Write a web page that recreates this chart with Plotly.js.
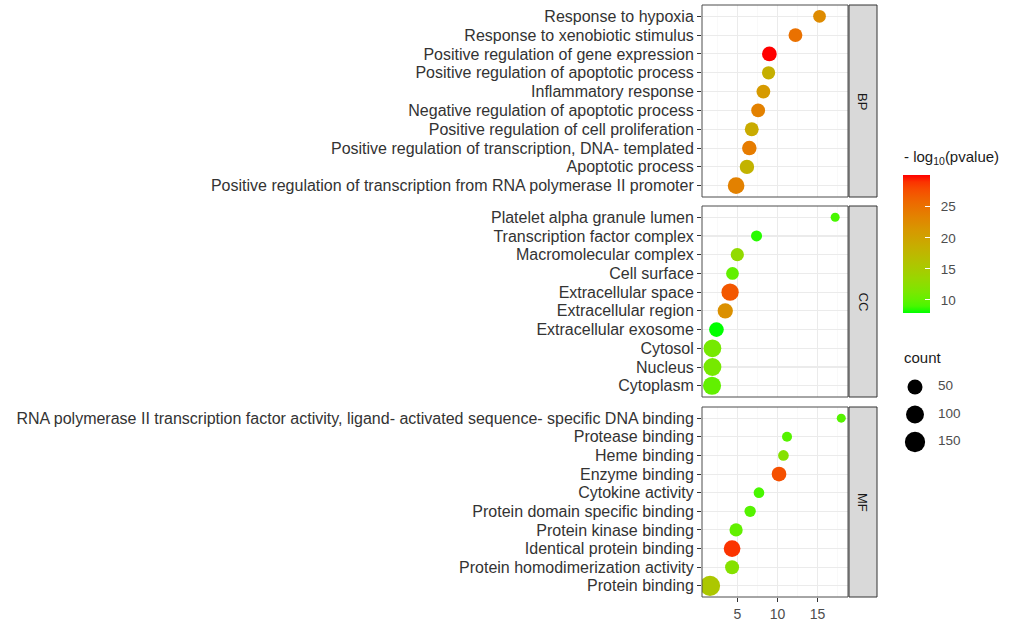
<!DOCTYPE html>
<html><head><meta charset="utf-8">
<script src="https://cdn.plot.ly/plotly-3.0.1.min.js"></script>
<style>html,body{margin:0;padding:0;background:#fff}</style>
</head><body><div id="chart" style="width:1010px;height:622px"></div>
<script>
// ---------- data ----------
const bpTerms = ["Response to hypoxia","Response to xenobiotic stimulus","Positive regulation of gene expression","Positive regulation of apoptotic process","Inflammatory response","Negative regulation of apoptotic process","Positive regulation of cell proliferation","Positive regulation of transcription, DNA- templated","Apoptotic process","Positive regulation of transcription from RNA polymerase II promoter"];
const bpEnrich = [15.25,12.25,9.0,8.9,8.25,7.6,6.8,6.5,6.2,4.85];
const bpCount  = [24,36,46,29,35,36,36,44,42,76];
const bpLogP   = [22.5,25,30.1,18.5,21,23.5,19,24,18,23.5];

const ccTerms = ["Platelet alpha granule lumen","Transcription factor complex","Macromolecular complex","Cell surface","Extracellular space","Extracellular region","Extracellular exosome","Cytosol","Nucleus","Cytoplasm"];
const ccEnrich = [17.2,7.4,5.0,4.4,4.1,3.5,2.4,1.9,1.9,1.85];
const ccCount  = [3,11,29,24,87,54,46,95,98,102];
const ccLogP   = [9,8.5,13,10,27,22,7.9,11,11,10];

const mfTerms = ["RNA polymerase II transcription factor activity, ligand- activated sequence- specific DNA binding","Protease binding","Heme binding","Enzyme binding","Cytokine activity","Protein domain specific binding","Protein kinase binding","Identical protein binding","Protein homodimerization activity","Protein binding"];
const mfEnrich = [17.96,11.2,10.75,10.2,7.7,6.6,4.85,4.35,4.35,1.6];
const mfCount  = [3,6,9,46,9,13,29,76,37,148];
const mfLogP   = [9.5,9.5,12,27.5,9,9.5,10,29,12,15.5];

const facetLabels = ["BP","CC","MF"];
const xTickVals = [5,10,15];
const colorTickVals = [10,15,20,25];
const countLegendVals = [50,100,150];

// ---------- helpers ----------
const W = 1010, H = 622;
const FONT = "Liberation Sans, Arial, Helvetica, sans-serif";
function sizeOf(c){ return 8 + 1.01*Math.sqrt(Math.max(c-2,0)); }
function s2l(c){c/=255;return c<=0.04045?c/12.92:Math.pow((c+0.055)/1.055,2.4);}
function l2s(c){c=c<=0.0031308?12.92*c:1.055*Math.pow(c,1/2.4)-0.055;return Math.round(Math.min(1,Math.max(0,c))*255);}
function rgb2lab(r,g,b){
  r=s2l(r);g=s2l(g);b=s2l(b);
  let X=(0.4124*r+0.3576*g+0.1805*b)/0.95047, Y=0.2126*r+0.7152*g+0.0722*b, Z=(0.0193*r+0.1192*g+0.9505*b)/1.08883;
  const f=t=>t>0.008856?Math.cbrt(t):7.787*t+16/116;
  const fx=f(X),fy=f(Y),fz=f(Z);
  return [116*fy-16,500*(fx-fy),200*(fy-fz)];
}
function lab2rgb(L,a,b){
  const fy=(L+16)/116, fx=fy+a/500, fz=fy-b/200;
  const fi=t=>t*t*t>0.008856?t*t*t:(t-16/116)/7.787;
  const X=fi(fx)*0.95047, Y=fi(fy), Z=fi(fz)*1.08883;
  const r= 3.2406*X-1.5372*Y-0.4986*Z, g=-0.9689*X+1.8758*Y+0.0415*Z, bb=0.0557*X-0.2040*Y+1.0570*Z;
  return 'rgb('+l2s(r)+','+l2s(g)+','+l2s(bb)+')';
}
const lo = rgb2lab(0,255,0), hi = rgb2lab(255,0,0);
const cscale = [];
for(let i=0;i<=20;i++){const t=i/20;cscale.push([t,lab2rgb(lo[0]+(hi[0]-lo[0])*t,lo[1]+(hi[1]-lo[1])*t,lo[2]+(hi[2]-lo[2])*t)]);}

const allP = bpLogP.concat(ccLogP, mfLogP);
const cmin = Math.min(...allP), cmax = Math.max(...allP);

// panel geometry (pixels)
const panelX = [702, 848];
const panelsY = [[5,197],[206,397],[407,597]];
const stripX = [849, 877];
const px = v => v/W, py = v => 1 - v/H;

const termSets = [bpTerms, ccTerms, mfTerms];
const enrichSets = [bpEnrich, ccEnrich, mfEnrich];
const countSets = [bpCount, ccCount, mfCount];
const pSets = [bpLogP, ccLogP, mfLogP];

const traces = [];
for(let k=0;k<3;k++){
  const m = {
    size: countSets[k].map(sizeOf),
    color: pSets[k], colorscale: cscale, cmin: cmin, cmax: cmax,
    line: {width:0}, opacity: 1,
    showscale: k===0
  };
  if(k===0){
    m.colorbar = {
      x: px(903), xanchor:'left', xpad:0,
      y: py(175), yanchor:'top', ypad:0,
      len: 138, lenmode:'pixels', thickness: 27, thicknessmode:'pixels',
      outlinewidth: 0, tickvals: colorTickVals, ticktext: colorTickVals.map(v=>'\u00A0\u00A0'+v),
      ticks:'inside', ticklen:5, tickcolor:'#ffffff', tickwidth:1,
      tickfont:{family:FONT,size:13.5,color:'#4d4d4d'}, title:{text:''}
    };
  }
  traces.push({
    type:'scatter', mode:'markers',
    x: enrichSets[k], y: termSets[k],
    xaxis:'x', yaxis: k===0?'y':'y'+(k+1),
    marker: m, hoverinfo:'x+y', showlegend:false
  });
}
// count size legend (own small axes)
traces.push({
  type:'scatter', mode:'markers',
  x: countLegendVals.map(()=>915), y: countLegendVals.map((v,i)=>387+27.5*i),
  xaxis:'x4', yaxis:'y4', opacity:1,
  marker:{size: countLegendVals.map(sizeOf), color:'#000000', opacity:1, line:{width:0}}, hoverinfo:'skip', showlegend:false, cliponaxis:false
});
traces.push({
  type:'scatter', mode:'text',
  x: countLegendVals.map(()=>938), y: countLegendVals.map((v,i)=>387+27.5*i),
  text: countLegendVals.map(String), textposition:'middle right',
  textfont:{family:FONT,size:13.5,color:'#4d4d4d'},
  xaxis:'x4', yaxis:'y4', hoverinfo:'skip', showlegend:false, cliponaxis:false
});

const yBase = {
  type:'category', anchor:'x', range:[9.6,-0.6], tickmode:'array',
  showgrid:true, gridcolor:'#EBEBEB', gridwidth:1.1, zeroline:false,
  ticks:'outside', ticklen:4, tickwidth:1, tickcolor:'#333333',
  tickfont:{family:FONT,size:16,color:'#333333'},
  showline:false, automargin:false, fixedrange:true
};
function yAx(k){
  return Object.assign({}, yBase, {
    domain:[py(panelsY[k][1]), py(panelsY[k][0])],
    categoryorder:'array', categoryarray: termSets[k],
    tickvals: termSets[k], ticktext: termSets[k]
  });
}
const layout = {
  width: W, height: H, margin:{l:0,r:0,t:0,b:0},
  paper_bgcolor:'#ffffff', plot_bgcolor:'#ffffff',
  font:{family:FONT,color:'#333333'},
  showlegend:false,
  xaxis:{
    domain:[px(panelX[0]), px(panelX[1])], anchor:'y3', range:[0.6,18.8],
    tickvals: xTickVals, ticks:'outside', ticklen:4, tickwidth:1, tickcolor:'#333333',
    tickfont:{family:FONT,size:14,color:'#4d4d4d'},
    showgrid:true, gridcolor:'#EBEBEB', gridwidth:1.1, zeroline:false, showline:false,
    minor:{tickvals:[2.5,7.5,12.5,17.5], showgrid:true, gridcolor:'#F5F5F5', gridwidth:0.6, ticks:''},
    automargin:false, fixedrange:true
  },
  yaxis: yAx(0), yaxis2: yAx(1), yaxis3: yAx(2),
  xaxis4:{domain:[px(900),px(1000)], range:[900,1000], anchor:'y4', visible:false, fixedrange:true},
  yaxis4:{domain:[py(460),py(370)], range:[460,370], anchor:'x4', visible:false, fixedrange:true},
  shapes: [], annotations: []
};
for(let k=0;k<3;k++){
  const yd = k===0?'y domain':'y'+(k+1)+' domain';
  layout.shapes.push({type:'rect', xref:'x domain', yref:yd, x0:0, x1:1, y0:0, y1:1, line:{color:'#4d4d4d', width:1}, fillcolor:'rgba(0,0,0,0)', layer:'above'});
  layout.shapes.push({type:'rect', xref:'paper', yref:'paper', x0:px(stripX[0]), x1:px(stripX[1]), y0:py(panelsY[k][1]), y1:py(panelsY[k][0]), line:{color:'#333333', width:1}, fillcolor:'#D9D9D9', layer:'above'});
  layout.annotations.push({xref:'paper', yref:'paper', x:px((stripX[0]+stripX[1])/2), y:py((panelsY[k][0]+panelsY[k][1])/2), text:facetLabels[k], textangle:90, showarrow:false, font:{family:FONT,size:13,color:'#1a1a1a'}, xanchor:'center', yanchor:'middle'});
}
layout.annotations.push({xref:'paper', yref:'paper', x:px(902), y:py(157), xanchor:'left', yanchor:'middle', showarrow:false, text:'- log<sub>10</sub>(pvalue)', font:{family:FONT,size:15,color:'#1a1a1a'}});
layout.annotations.push({xref:'paper', yref:'paper', x:px(902), y:py(357), xanchor:'left', yanchor:'middle', showarrow:false, text:'count', font:{family:FONT,size:15,color:'#1a1a1a'}});

Plotly.newPlot('chart', traces, layout, {displayModeBar:false, staticPlot:true});
</script></body></html>
